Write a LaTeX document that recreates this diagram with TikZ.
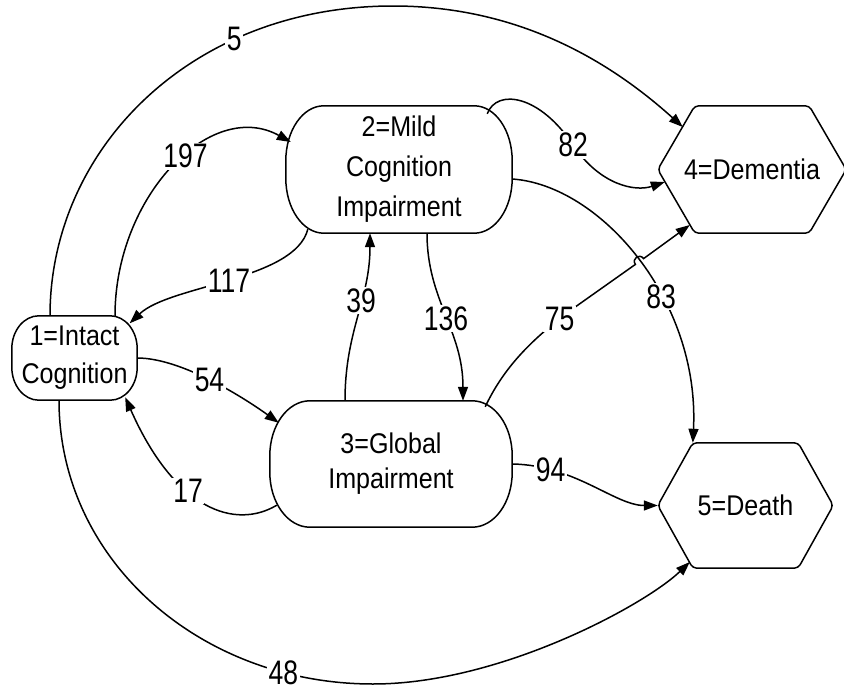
\documentclass[tikz,border=0pt]{standalone}
\usepackage{fontspec}
\setmainfont{Liberation Sans}[FakeStretch=0.88]
\newfontfamily\lblfont{Liberation Sans}[FakeStretch=0.78]
\usetikzlibrary{calc,arrows.meta}
\newcommand\ERect[3]{%
  \draw[shapeline] ($(#1.north west)+(#2,0)$) -- ($(#1.north east)+(-#2,0)$)
    arc[start angle=-90,end angle=0,x radius=#2,y radius=#3]
    -- ($(#1.south east)+(0,-#3)$)
    arc[start angle=0,end angle=90,x radius=#2,y radius=#3]
    -- ($(#1.south west)+(#2,0)$)
    arc[start angle=90,end angle=180,x radius=#2,y radius=#3]
    -- ($(#1.north west)+(0,#3)$)
    arc[start angle=180,end angle=270,x radius=#2,y radius=#3] -- cycle;}
\newcommand\HexNode[2]{%
  \draw[shapeline,rounded corners=4pt] (#1.west) -- ($(#1.north west)+(#2,0)$)
    -- ($(#1.north east)+(-#2,0)$) -- (#1.east) -- ($(#1.south east)+(-#2,0)$)
    -- ($(#1.south west)+(#2,0)$) -- cycle;}
\begin{document}
\begin{tikzpicture}[x=1pt,y=-1pt,
  shapeline/.style={line width=1.5pt},
  nodebox/.style={inner sep=0pt,align=center,font=\fontsize{28.5}{38}\selectfont},
  edge/.style={line width=1.5pt,-{Triangle[length=14pt,width=10pt]}},
  lbl/.style={fill=white,inner sep=1.5pt,font=\lblfont\fontsize{34}{34}\selectfont}]
\fill[white] (0,0) rectangle (844,696);
\useasboundingbox (0,0) rectangle (844,696);

\node[nodebox,minimum width=125pt,minimum height=84pt] (n1) at (74.5,358) {1=Intact\\Cognition};
\node[nodebox,minimum width=226pt,minimum height=127pt,font=\fontsize{28.5}{40}\selectfont] (n2) at (399,169.5) {2=Mild\\Cognition\\Impairment};
\node[nodebox,minimum width=242pt,minimum height=126pt,font=\fontsize{28.5}{35}\selectfont] (n3) at (391,464) {3=Global\\Impairment};
\node[nodebox,minimum width=188pt,minimum height=127pt] (n4) at (752,169.5) {4=Dementia};
\node[nodebox,minimum width=175pt,minimum height=125pt] (n5) at (745.5,505.5) {5=Death};

\ERect{n1}{27}{33}
\ERect{n2}{38}{55}
\ERect{n3}{40}{55}
\HexNode{n4}{37}
\HexNode{n5}{35}

% 1 -> 4 (5)
\draw[edge] ($(n1.north)+(-24.5,0)$) .. controls (50,150) and (190,6) .. (393,6) node[lbl,pos=0.71]{5}
  .. controls (500,6) and (593,46) .. ($(n4.west)+(25,-42.5)$);
% 1 -> 2 (197)
\draw[edge] ($(n1.north)+(40.5,0)$) .. controls (115,196) and (211,98) .. ($(n2.west)+(5,-27.5)$) node[lbl,pos=0.56]{197};
% 2 -> 1 (117)
\draw[edge] ($(n2.south west)+(22,-4)$) .. controls (295,280) and (170,285) .. ($(n1.north east)+(-7.5,7.5)$) node[lbl,pos=0.5]{117};
% 1 -> 3 (54)
\draw[edge] (n1.east) .. controls (180,358) and (240,395) .. ($(n3.north west)+(9,22)$) node[lbl,pos=0.5]{54};
% 3 -> 1 (17)
\draw[edge] ($(n3.south west)+(7,-22)$) .. controls (235,530) and (175,510) .. ($(n1.south east)+(-12,-3)$) node[lbl,pos=0.6]{17};
% 3 -> 2 (39)
\draw[edge] ($(n3.north)+(-46,0)$) .. controls (345,330) and (370,300) .. ($(n2.south)+(-29,0)$) node[lbl,pos=0.6]{39};
% 2 -> 3 (136)
\draw[edge] ($(n2.south)+(28,0)$) .. controls (427,300) and (463,330) .. ($(n3.north)+(72,0)$) node[lbl,pos=0.52]{136};
% 2 -> 4 (82)
\draw[edge] ($(n2.north east)+(-25,8)$) .. controls (497,88) and (540,95) .. (573,145) node[lbl,pos=1]{82}
  .. controls (600,185) and (635,192) .. ($(n4.west)+(7,12.5)$);
% 2 -> 5 (83)
\draw[edge] ($(n2.east)+(0,9.5)$) .. controls (600,185) and (700,300) .. ($(n5.north west)+(35,0)$) node[lbl,pos=0.62]{83};
% 3 -> 4 (75)
\draw[edge] ($(n3.north east)+(-27,6)$) .. controls (505,365) and (535,336) .. (578,305) node[lbl,pos=0.85]{75}
  -- (635.4,264.4) .. controls (631.3,258.7) and (639.5,252.9) .. (643.6,258.6) -- ($(n4.west)+(32,55.5)$);
% 3 -> 5 (94)
\draw[edge] (n3.east) .. controls (575,465) and (615,505.5) .. (n5.west) node[lbl,pos=0.22]{94};
% 1 -> 5 (48)
\draw[edge] ($(n1.south)+(-15.5,0)$) .. controls (59,560) and (200,684) .. (373,684) node[lbl,pos=0.82]{48}
  .. controls (500,684) and (645,605) .. ($(n5.west)+(32,56.5)$);
\end{tikzpicture}
\end{document}
